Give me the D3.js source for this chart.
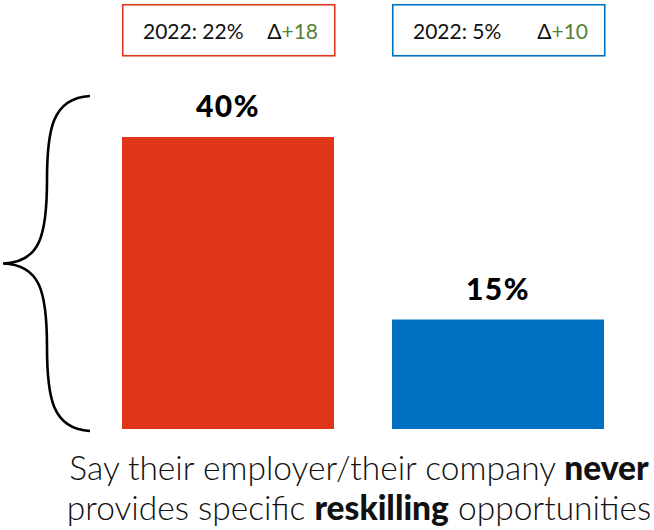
<!DOCTYPE html>
<html>
<head>
<meta charset="utf-8">
<script src="https://cdn.jsdelivr.net/npm/d3@7"></script>
<style>
  html, body { margin: 0; padding: 0; background: #fff; }
  svg { display: block; font-family: Lato, "Open Sans", sans-serif; }
</style>
</head>
<body>
<svg id="chart" width="654" height="530"></svg>
<script>
// Share of respondents, current wave vs. 2022
const categories = ["A", "B"];
const values = [40, 15];
const values2022 = [22, 5];
const deltas = [18, 10];
const colors = ["#DF3619", "#0070C0"];
const captionLine1 = [["Say their employer/their company ", false], ["never", true]];
const captionLine2 = [["provides specific ", false], ["reskilling", true], [" opportunities", false]];

const svg = d3.select("#chart");

const x = d3.scaleBand()
  .domain(categories)
  .range([122, 604])
  .paddingInner(58 / 270)
  .paddingOuter(0);

const y = d3.scaleLinear()
  .domain([0, 40])
  .range([429, 137]);

const data = categories.map((c, i) => ({
  cat: c, value: values[i], prev: values2022[i], delta: deltas[i], color: colors[i]
}));

// Bars
svg.selectAll("rect.bar")
  .data(data)
  .join("rect")
  .attr("class", "bar")
  .attr("x", d => x(d.cat))
  .attr("y", d => y(d.value))
  .attr("width", x.bandwidth())
  .attr("height", d => y(0) - y(d.value))
  .attr("fill", d => d.color);

// Value labels
svg.selectAll("text.val")
  .data(data)
  .join("text")
  .attr("class", "val")
  .attr("x", d => x(d.cat) + x.bandwidth() / 2)
  .attr("y", d => y(d.value) - 20)
  .attr("text-anchor", "middle")
  .attr("font-size", 30)
  .attr("font-weight", 900)
  .attr("letter-spacing", 1.5)
  .attr("fill", "#000")
  .text(d => d.value + "%");

// Comparison boxes above bars
const boxTop = 4, boxH = 51;
const boxes = svg.selectAll("g.box")
  .data(data)
  .join("g")
  .attr("class", "box")
  .attr("transform", d => `translate(${x(d.cat)},${boxTop})`);

boxes.append("rect")
  .attr("x", 0.75)
  .attr("y", 0.75)
  .attr("width", x.bandwidth())
  .attr("height", boxH)
  .attr("fill", "#fff")
  .attr("stroke", d => d.color)
  .attr("stroke-width", 1.6);

boxes.append("text")
  .attr("x", 21)
  .attr("y", 35)
  .attr("font-size", 21)
  .attr("fill", "#111")
  .text(d => `2022: ${d.prev}%`);

const dt = boxes.append("text")
  .attr("x", x.bandwidth() - 16)
  .attr("y", 35)
  .attr("font-size", 21)
  .attr("text-anchor", "end");
dt.append("tspan").attr("fill", "#111").text("Δ");
dt.append("tspan").attr("fill", "#548235").text(d => "+" + d.delta);

// Curly brace spanning the bars
const braceTop = 96, braceBot = 431, braceMid = (braceTop + braceBot) / 2;
const bx = 90, tip = 3, stem = 47;
const brace = d3.path();
brace.moveTo(bx, braceTop);
brace.bezierCurveTo(52, braceTop + 2, stem, braceTop + 34, stem, braceTop + 84);
brace.bezierCurveTo(stem, braceMid - 28, 40, braceMid - 1, tip, braceMid);
brace.bezierCurveTo(40, braceMid + 1, stem, braceMid + 28, stem, braceBot - 84);
brace.bezierCurveTo(stem, braceBot - 34, 52, braceBot - 2, bx, braceBot);
svg.append("path")
  .attr("d", brace.toString())
  .attr("fill", "none")
  .attr("stroke", "#000")
  .attr("stroke-width", 2.6);

// Caption
const cx = 359;
[[captionLine1, 480], [captionLine2, 520]].forEach(([parts, yy]) => {
  const t = svg.append("text")
    .attr("x", cx)
    .attr("y", yy)
    .attr("text-anchor", "middle")
    .attr("font-size", 33.5)
    .attr("font-weight", 300)
    .attr("fill", "#111");
  parts.forEach(([s, b]) => {
    t.append("tspan")
      .attr("font-weight", b ? 900 : 300)
      .text(s);
  });
});
</script>
</body>
</html>
